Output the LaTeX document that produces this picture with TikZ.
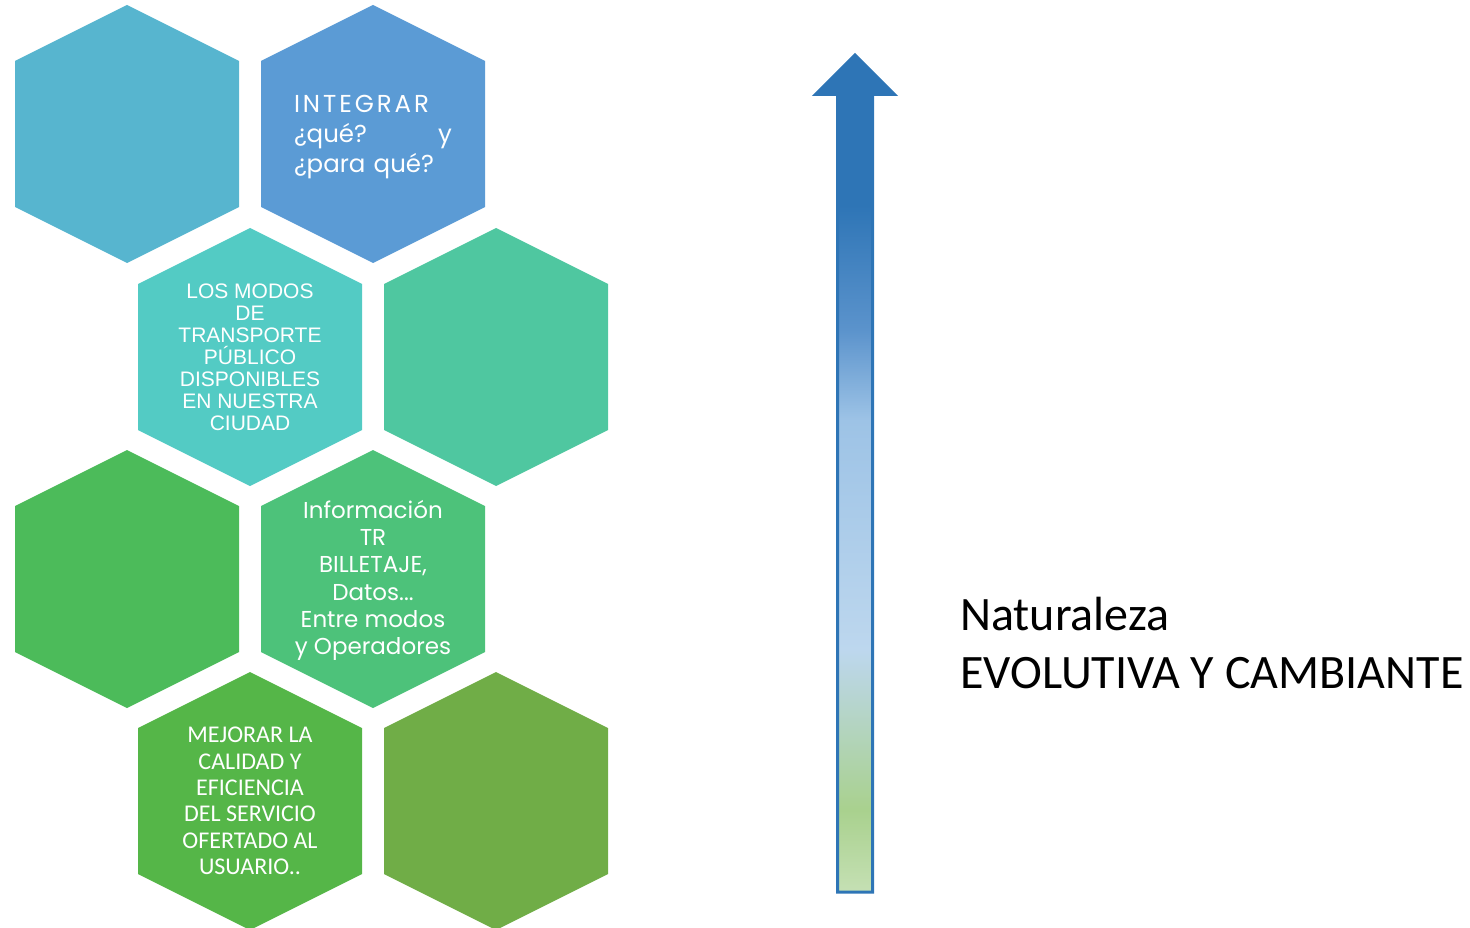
\documentclass[tikz,border=0pt]{standalone}
\usepackage{fontspec}
\setmainfont{Carlito}
\newfontfamily\gothfont{Poppins}
\newfontfamily\arialfont{Liberation Sans}
\usetikzlibrary{calc}

\definecolor{hexA}{HTML}{57B5CF}
\definecolor{hexB}{HTML}{5B9BD5}
\definecolor{hexC}{HTML}{53CBC4}
\definecolor{hexD}{HTML}{4FC7A0}
\definecolor{hexE}{HTML}{4CBB5A}
\definecolor{hexF}{HTML}{4DC27A}
\definecolor{hexG}{HTML}{55B648}
\definecolor{hexH}{HTML}{70AD47}
\definecolor{arrdark}{HTML}{2E75B6}
\definecolor{arrmid}{HTML}{5B93CC}
\definecolor{arrlight}{HTML}{9DC3E6}
\definecolor{arrpale}{HTML}{BDD7EE}
\definecolor{arrgreen}{HTML}{A9D18E}
\definecolor{arrgreenl}{HTML}{C5E0B4}

\begin{document}
\begin{tikzpicture}[x=1pt,y=-1pt,
        celltext/.style={text=white, align=center, inner sep=0pt},
        arrline/.style={draw=arrdark, line width=3pt, line join=miter}]
    \useasboundingbox (0,0) rectangle (1470,928);
    % honeycomb
    \foreach \nm/\cx/\cy/\col in {hA/127/134/hexA, hB/373/134/hexB, hC/250/357/hexC, hD/496/357/hexD,
                                  hE/127/579/hexE, hF/373/579/hexF, hG/250/801/hexG, hH/496/801/hexH} {
        \coordinate (\nm) at (\cx,\cy);
        \fill[\col] (\nm) ++(0,-129) -- ++(112,56) -- ++(0,146) -- ++(-112,56) -- ++(-112,-56) -- ++(0,-146) -- cycle;
    }
    \node[celltext, text width=158pt, align=left, font=\gothfont\fontsize{24.5}{30}\selectfont] (tB) at ([yshift=-3.5]hB)
        {{\addfontfeature{LetterSpace=12}INTEGRAR}\\¿qué?\hfill y\\¿para qué?};
    \node[celltext, font=\arialfont\fontsize{21}{22}\selectfont] (tC) at (hC)
        {LOS MODOS\\DE\\TRANSPORTE\\PÚBLICO\\DISPONIBLES\\EN NUESTRA\\CIUDAD};
    \node[celltext, font=\gothfont\fontsize{23}{27.2}\selectfont] (tF) at ([yshift=-1.5]hF)
        {Información\\TR\\BILLETAJE,\\Datos...\\Entre modos\\y Operadores};
    \node[celltext, font=\fontsize{24}{26.4}\selectfont] (tG) at (hG)
        {MEJORAR LA\\CALIDAD Y\\EFICIENCIA\\DEL SERVICIO\\OFERTADO AL\\USUARIO..};
    % arrow
    \coordinate (tip) at (855,55);
    \fill[arrdark] (tip) -- ++(39.5,39.5) -- ++(-22,0) -- ++(0,110) -- ++(-35,0) -- ++(0,-110) -- ++(-22,0) -- cycle;
    \foreach \ya/\yb/\ca/\cb in {205/330/arrdark/arrmid, 330/420/arrmid/arrlight, 420/650/arrlight/arrpale,
                                 650/810/arrpale/arrgreen, 810/892/arrgreen/arrgreenl} {
        \shade[top color=\ca, bottom color=\cb] (837.5,\ya) rectangle (872.5,\yb);
    }
    \draw[arrline] (tip) -- ++(39.5,39.5) -- ++(-22,0) -- ++(0,797.5) -- ++(-35,0) -- ++(0,-797.5) -- ++(-22,0) -- cycle;
    \node[anchor=north west, inner sep=0pt, align=left, font=\fontsize{48}{58}\selectfont] (nat) at (960,597)
        {Naturaleza\\EVOLUTIVA Y CAMBIANTE};
\end{tikzpicture}
\end{document}
